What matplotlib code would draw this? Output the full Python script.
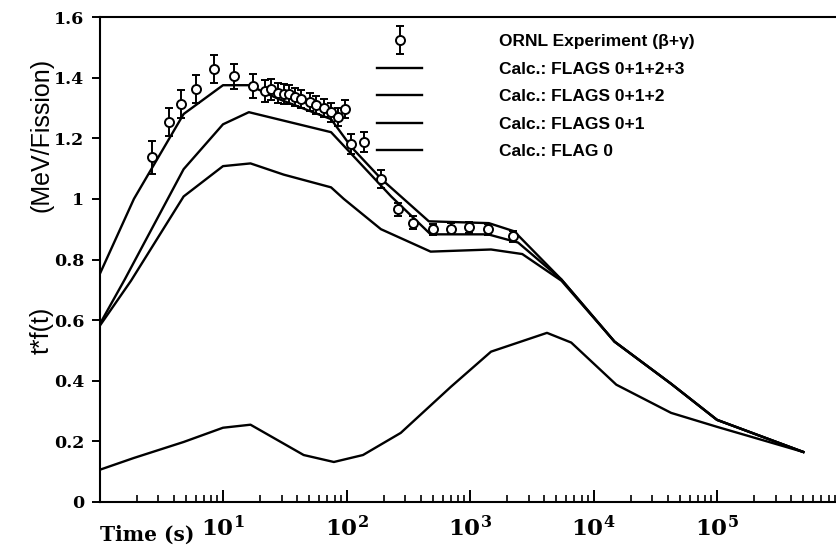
import matplotlib
matplotlib.use('Agg')
import matplotlib.pyplot as plt
from matplotlib.ticker import FixedLocator, FixedFormatter, NullFormatter
from matplotlib.legend_handler import HandlerErrorbar
import numpy as np

plt.rcParams['mathtext.fontset'] = 'custom'
plt.rcParams['mathtext.rm'] = 'DejaVu Serif:bold'
plt.rcParams['mathtext.it'] = 'DejaVu Serif:bold:italic'
plt.rcParams['mathtext.bf'] = 'DejaVu Serif:bold'
plt.rcParams['mathtext.default'] = 'rm'

# ---------------- data ----------------
# ORNL experiment (beta+gamma)
t_exp = [2.64, 3.63, 4.53, 6.0, 8.4, 12.2, 17.5, 22, 24.5, 28, 31, 34, 38, 43,
         51, 57, 66, 75, 85, 98, 108, 138, 190, 260, 345, 500, 700, 985, 1400, 2250]
y_exp = [1.137, 1.253, 1.312, 1.362, 1.428, 1.405, 1.372, 1.356, 1.362, 1.35,
         1.345, 1.345, 1.335, 1.33, 1.32, 1.31, 1.30, 1.285, 1.27, 1.296,
         1.18, 1.187, 1.065, 0.965, 0.922, 0.90, 0.902, 0.906, 0.90, 0.876]
err_exp = [0.055, 0.047, 0.046, 0.047, 0.045, 0.041, 0.039, 0.035, 0.035, 0.033,
           0.033, 0.032, 0.03, 0.03, 0.03, 0.03, 0.03, 0.03, 0.03, 0.03,
           0.033, 0.033, 0.03, 0.022, 0.02, 0.018, 0.018, 0.018, 0.018, 0.018]

# Calc.: FLAGS 0+1+2+3
t_f0123 = [1, 1.9, 4.8, 10, 16.3, 28, 75, 110, 192, 464, 1420, 2280, 5500, 14800, 42500, 1.0e5, 5.0e5]
y_f0123 = [0.75, 1.0, 1.28, 1.375, 1.375, 1.33, 1.263, 1.17, 1.065, 0.926, 0.92, 0.893,
           0.734, 0.529, 0.39, 0.271, 0.165]

# Calc.: FLAGS 0+1+2
t_f012 = [1, 1.6, 4.8, 10, 16.2, 75, 230, 480, 1400, 2450, 5500, 14800, 42500, 1.0e5, 5.0e5]
y_f012 = [0.585, 0.734, 1.098, 1.246, 1.286, 1.22, 1.008, 0.883, 0.883, 0.856, 0.734,
          0.529, 0.39, 0.271, 0.165]

# Calc.: FLAGS 0+1
t_f01 = [1, 1.8, 4.8, 10, 16.7, 31, 75, 95, 190, 480, 1480, 2650, 5500, 14800, 42500, 1.0e5, 5.0e5]
y_f01 = [0.58, 0.73, 1.008, 1.108, 1.117, 1.08, 1.038, 1.0, 0.9, 0.826, 0.833, 0.818,
         0.73, 0.529, 0.39, 0.271, 0.165]

# Calc.: FLAG 0
t_f0 = [1, 1.89, 4.8, 10, 16.7, 45, 79, 136, 275, 700, 1480, 4200, 6600, 15300, 42500, 1.0e5, 5.0e5]
y_f0 = [0.106, 0.145, 0.198, 0.245, 0.255, 0.155, 0.132, 0.155, 0.228, 0.38, 0.496,
        0.558, 0.526, 0.387, 0.294, 0.248, 0.165]

y_ticks = [0, 0.2, 0.4, 0.6, 0.8, 1.0, 1.2, 1.4, 1.6]
y_ticklabels = ['0', '0.2', '0.4', '0.6', '0.8', '1', '1.2', '1.4', '1.6']
x_major = [1, 10, 100, 1000, 1e4, 1e5]
x_ticklabels = ['', '$10^{1}$', '$10^{2}$', '$10^{3}$', '$10^{4}$', '$10^{5}$']

labels = ['ORNL Experiment (β+γ)', 'Calc.: FLAGS 0+1+2+3', 'Calc.: FLAGS 0+1+2',
          'Calc.: FLAGS 0+1', 'Calc.: FLAG 0']

# ---------------- figure ----------------
W, H = 836, 554
fig = plt.figure(figsize=(W / 100, H / 100), dpi=100)
ax = fig.add_axes([99.5 / W, 52 / H, (W - 99.5) / W, (502 - 17) / H])

lw = 1.7
eb = ax.errorbar(t_exp, y_exp, yerr=err_exp, fmt='o', ms=6.5, mfc='white', mec='black',
                 mew=1.4, ecolor='black', elinewidth=1.4, capsize=3, capthick=1.4,
                 zorder=5, label=labels[0])
l1, = ax.plot(t_f0123, y_f0123, color='black', lw=lw, label=labels[1])
l2, = ax.plot(t_f012, y_f012, color='black', lw=lw, label=labels[2])
l3, = ax.plot(t_f01, y_f01, color='black', lw=lw, label=labels[3])
l4, = ax.plot(t_f0, y_f0, color='black', lw=lw, label=labels[4])

ax.set_xscale('log')
ax.set_xlim(1, 10 ** ((W - 99.5) / 123.5))
ax.set_ylim(0, 1.6)

ax.xaxis.set_major_locator(FixedLocator(x_major))
ax.xaxis.set_major_formatter(FixedFormatter(x_ticklabels))
minor = [m * 10 ** k for k in range(0, 6) for m in range(2, 10)]
ax.xaxis.set_minor_locator(FixedLocator(minor))
ax.xaxis.set_minor_formatter(NullFormatter())
ax.set_yticks(y_ticks)
ax.set_yticklabels(y_ticklabels)

ax.tick_params(axis='x', which='major', direction='in', length=9, width=1.4, pad=10,
               labelsize=16.5)
ax.tick_params(axis='x', which='minor', direction='in', length=5, width=1.2)
ax.tick_params(axis='y', which='major', direction='out', length=6, width=1.4, pad=5)
for lab in ax.get_yticklabels():
    lab.set_fontfamily('DejaVu Serif')
    lab.set_fontweight('bold')
    lab.set_fontsize(12.5)

for s in ['left', 'bottom', 'top']:
    ax.spines[s].set_linewidth(1.5)
ax.spines['right'].set_visible(False)

fig.text(100 / W, 1 - 535 / H, 'Time (s)', ha='left', va='center',
         fontfamily='DejaVu Serif', fontweight='bold', fontsize=14.5)
fig.text(42 / W, 1 - 135 / H, '(MeV/Fission)', rotation=90, ha='center', va='center',
         fontfamily='Liberation Sans', fontsize=18)
fig.text(42 / W, 1 - 330 / H, 't*f(t)', rotation=90, ha='center', va='center',
         fontfamily='Liberation Sans', fontsize=18)

leg = ax.legend(handles=[eb, l1, l2, l3, l4], labels=labels, loc='upper left',
                bbox_to_anchor=(377 / W, 1 - 34 / H), bbox_transform=fig.transFigure,
                frameon=False, borderpad=0, borderaxespad=0, numpoints=1,
                handlelength=2.6, handletextpad=4.4, labelspacing=0.71,
                prop={'family': 'Liberation Sans', 'weight': 'bold', 'size': 12.5},
                handler_map={type(eb): HandlerErrorbar(yerr_size=0.8)})

fig.savefig('out.png', dpi=100)
